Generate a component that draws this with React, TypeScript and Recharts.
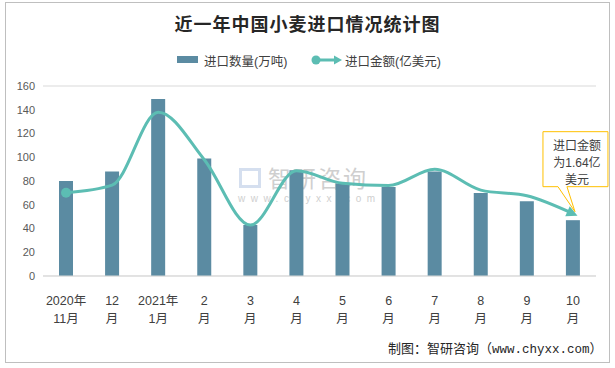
import React from 'react'
import { ComposedChart, Bar, Line, XAxis, YAxis, CartesianGrid } from 'recharts'

const labelTop = ['2020年', '12', '2021年', '2', '3', '4', '5', '6', '7', '8', '9', '10']
const labelBottom = ['11月', '月', '1月', '月', '月', '月', '月', '月', '月', '月', '月', '月']
const volume = [80, 88, 149, 99, 43, 89, 78, 75, 88, 70, 63, 47]
const amount = [2.19, 2.39, 4.31, 3.06, 1.34, 2.77, 2.44, 2.38, 2.81, 2.26, 2.11, 1.64]
const yTicks = [0, 20, 40, 60, 80, 100, 120, 140, 160]

const data = labelTop.map((t, i) => ({ key: String(i), top: t, bottom: labelBottom[i], volume: volume[i], amount: amount[i] }))

const BAR = '#5b8ba2'
const LINE = '#5cbdb3'
const FONT = '"Liberation Sans", "Noto Sans CJK SC", sans-serif'

const XTick = (props: any) => {
  const { x, y, payload } = props
  const row = data[Number(payload.value)]
  return (
    <g>
      <text x={x} y={y + 21} textAnchor="middle" fontSize={12.5} fill="#404040" fontFamily={FONT}>{row.top}</text>
      <text x={x} y={y + 39} textAnchor="middle" fontSize={12.5} fill="#404040" fontFamily={FONT}>{row.bottom}</text>
    </g>
  )
}

const renderDot = (props: any) => {
  const { cx, cy, index } = props
  if (index === 0) {
    return <circle key="d0" cx={cx} cy={cy} r={5} fill={LINE} />
  }
  if (index === data.length - 1) {
    const x0 = cx - 30
    const x1 = cx + 35
    const y0 = cy - 82
    const y1 = cy - 27
    return (
      <g key={`d${index}`}>
        <polygon points="5,0 -6,-5.5 -6,5.5" fill={LINE} transform={`translate(${cx},${cy}) rotate(24)`} />
        <path
          d={`M${x0},${y0} H${x1} V${y1} H${cx - 6} L${cx + 2},${cy - 2} L${cx - 15},${y1} H${x0} Z`}
          fill="#fff"
          stroke="#ffc000"
          strokeWidth={1}
        />
        <text x={cx + 4} y={y0 + 18} textAnchor="middle" fontSize={12} fill="#404040" fontFamily={FONT}>进口金额</text>
        <text x={cx + 4} y={y0 + 35} textAnchor="middle" fontSize={12} fill="#404040" fontFamily={FONT}>为1.64亿</text>
        <text x={cx + 4} y={y0 + 52} textAnchor="middle" fontSize={12} fill="#404040" fontFamily={FONT}>美元</text>
      </g>
    )
  }
  return <g key={`d${index}`} />
}

export default function App() {
  return (
    <div style={{ position: 'absolute', left: 0, top: 0, width: 615, height: 368, background: '#fff', fontFamily: FONT }}>
      <div style={{ position: 'absolute', left: 5, top: 2, width: 603, height: 359, border: '1px solid #bfbfbf' }} />
      <div style={{ position: 'absolute', left: 0, top: 10, width: 615, textAlign: 'center', fontSize: 18, fontWeight: 'bold', color: '#262626', letterSpacing: 1, fontFamily: '"Noto Sans CJK SC", serif' }}>
        近一年中国小麦进口情况统计图
      </div>
      <div style={{ position: 'absolute', left: 0, top: 50, width: 615, height: 20, fontSize: 12.5, color: '#404040' }}>
        <div style={{ position: 'absolute', left: 177, top: 6, width: 21, height: 7, background: BAR }} />
        <div style={{ position: 'absolute', left: 204, top: 1, whiteSpace: 'nowrap' }}>进口数量(万吨)</div>
        <svg style={{ position: 'absolute', left: 310, top: 3 }} width={32} height={14}>
          <line x1={6} y1={7} x2={26} y2={7} stroke={LINE} strokeWidth={3} />
          <circle cx={6} cy={7} r={4.5} fill={LINE} />
          <polygon points="32,7 24,2.5 24,11.5" fill={LINE} />
        </svg>
        <div style={{ position: 'absolute', left: 345, top: 1, whiteSpace: 'nowrap' }}>进口金额(亿美元)</div>
      </div>
      <div style={{ position: 'absolute', left: 268, top: 167, fontSize: 23, lineHeight: '24px', color: '#cfcfcf', whiteSpace: 'nowrap', letterSpacing: 2 }}>智研咨询</div>
      <div style={{ position: 'absolute', left: 238, top: 193, fontSize: 10, lineHeight: '11px', color: '#cfcfcf', whiteSpace: 'nowrap', letterSpacing: 5.5 }}>www.chyxx.com</div>
      <div style={{ position: 'absolute', left: 239, top: 168, width: 22, height: 20, border: '3px solid #d5dfef', boxSizing: 'border-box' }} />
      <ComposedChart
        width={615}
        height={368}
        data={data}
        margin={{ top: 86, right: 19, bottom: 52, left: 0 }}
        style={{ position: 'absolute', left: 0, top: 0 }}
      >
        <CartesianGrid vertical={false} stroke="#d9d9d9" />
        <XAxis dataKey="key" tick={<XTick />} tickLine={false} axisLine={{ stroke: '#d9d9d9' }} height={40} interval={0} />
        <YAxis
          yAxisId="left"
          domain={[0, 160]}
          ticks={yTicks}
          width={43}
          tickLine={false}
          axisLine={false}
          tick={{ fontSize: 11, fill: '#595959', fontFamily: FONT }}
        />
        <YAxis yAxisId="right" orientation="right" domain={[0, 5]} hide />
        <Bar yAxisId="left" dataKey="volume" fill={BAR} barSize={14} isAnimationActive={false} />
        <Line
          yAxisId="right"
          dataKey="amount"
          type="monotone"
          stroke={LINE}
          strokeWidth={3}
          dot={renderDot}
          activeDot={false}
          isAnimationActive={false}
        />
      </ComposedChart>
      <div style={{ position: 'absolute', left: 388, top: 338, fontSize: 13, color: '#262626', whiteSpace: 'nowrap' }}>
        制图：智研咨询（<span style={{ fontFamily: '"Liberation Mono", monospace', fontSize: 12.5 }}>www.chyxx.com</span>）
      </div>
    </div>
  )
}
